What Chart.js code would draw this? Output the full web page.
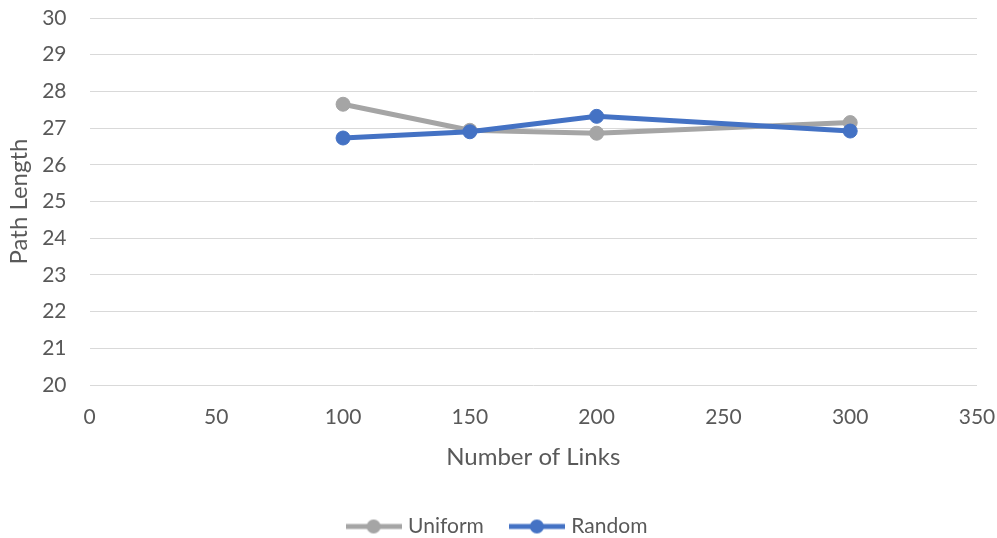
<!DOCTYPE html>
<html>
<head>
<meta charset="utf-8">
<script src="https://cdn.jsdelivr.net/npm/chart.js@4/dist/chart.umd.min.js"></script>
<style>
  body { margin: 0; background: #fff; }
  canvas { display: block; }
</style>
</head>
<body>
<canvas id="pathchart" width="997" height="538"></canvas>
<script>
// data
var links = [100, 150, 200, 300];
var uniform = [27.65, 26.94, 26.86, 27.15];
var random = [26.73, 26.9, 27.32, 26.92];
var seriesNames = ["Uniform", "Random"];
var xTicks = [0, 50, 100, 150, 200, 250, 300, 350];
var yTicks = [20, 21, 22, 23, 24, 25, 26, 27, 28, 29, 30];

var textColor = "#595959";
var gridColor = "#d9d9d9";
var grey = "#a5a5a5";
var blue = "#4472c4";
var fontFamily = "Lato, 'Open Sans', sans-serif";

// little line + dot picture for the legend, like excel does it
markerImage = function (color) {
    var c = document.createElement("canvas");
    c.width = 56;
    c.height = 18;
    var cx = c.getContext("2d");
    cx.strokeStyle = color;
    cx.lineWidth = 5;
    cx.beginPath();
    cx.moveTo(0, 9);
    cx.lineTo(56, 9);
    cx.stroke();
    cx.fillStyle = color;
    cx.beginPath();
    cx.arc(28, 9, 7, 0, Math.PI * 2);
    cx.fill();
    return c;
};

var markers = [markerImage(grey), markerImage(blue)];

toPoints = function (xs, ys) {
    var pts = [];
    for (i = 0; i < xs.length; i++) {
        pts.push({x: xs[i], y: ys[i]});
    }
    return pts;
};

var chartData = {
  datasets: [
    {
      label: seriesNames[0],
      data: toPoints(links, uniform),
      borderColor: grey,
      backgroundColor: grey,
      pointBackgroundColor: grey,
      pointBorderColor: grey,
      borderWidth: 5,
      pointRadius: 7,
      pointBorderWidth: 1,
      order: 1
    },
    {
      label: seriesNames[1],
      data: toPoints(links, random),
      borderColor: blue,
      backgroundColor: blue,
      pointBackgroundColor: blue,
      pointBorderColor: blue,
      borderWidth: 5,
      pointRadius: 7,
      pointBorderWidth: 1,
      order: 0
    }
  ]
};

var ctx = document.getElementById("pathchart").getContext("2d");
var pathChart = new Chart(ctx, {
  type: "line",
  data: chartData,
  options: {
    responsive: false,
    animation: false,
    layout: { padding: { top: 18, right: 20, left: 20, bottom: -9 } },
    plugins: {
      tooltip: { enabled: false },
      legend: {
        position: "bottom",
        labels: {
          usePointStyle: true,
          pointStyleWidth: 48,
          padding: 29,
          color: textColor,
          font: { family: fontFamily, size: 21 },
          sort: function (a, b) { return a.datasetIndex - b.datasetIndex; },
          generateLabels: function (chart) {
            var items = Chart.defaults.plugins.legend.labels.generateLabels(chart);
            items.forEach(function (it) {
              it.pointStyle = markers[it.datasetIndex];
            });
            return items;
          }
        }
      }
    },
    scales: {
      x: {
        type: "linear",
        min: xTicks[0],
        max: xTicks[xTicks.length - 1],
        afterBuildTicks: function (axis) {
          axis.ticks = xTicks.map(function (v) { return {value: v}; });
        },
        grid: { display: false, drawTicks: false },
        border: { display: false },
        ticks: { color: textColor, padding: 20, font: { family: fontFamily, size: 21 } },
        title: {
          display: true,
          text: "Number of Links",
          color: textColor,
          font: { family: fontFamily, size: 24 },
          padding: { top: 0, bottom: 15.6 }
        },
        afterFit: function (axis) {
            axis.height = 102;
            axis.paddingLeft = 0;
            axis.paddingRight = 0;
        }
      },
      y: {
        min: yTicks[0],
        max: yTicks[yTicks.length - 1],
        afterBuildTicks: function (axis) {
          axis.ticks = yTicks.map(function (v) { return {value: v}; });
        },
        grid: { color: gridColor, lineWidth: 1, drawTicks: false },
        border: { display: false },
        ticks: { color: textColor, padding: 23, font: { family: fontFamily, size: 21 } },
        title: {
          display: true,
          text: "Path Length",
          color: textColor,
          font: { family: fontFamily, size: 24 },
          padding: { top: -15.4, bottom: 0 }
        },
        afterFit: function (axis) {
            axis.width = 69.5;
            axis.paddingTop = 0;
            axis.paddingBottom = 0;
        }
      }
    }
  }
});
</script>
</body>
</html>
